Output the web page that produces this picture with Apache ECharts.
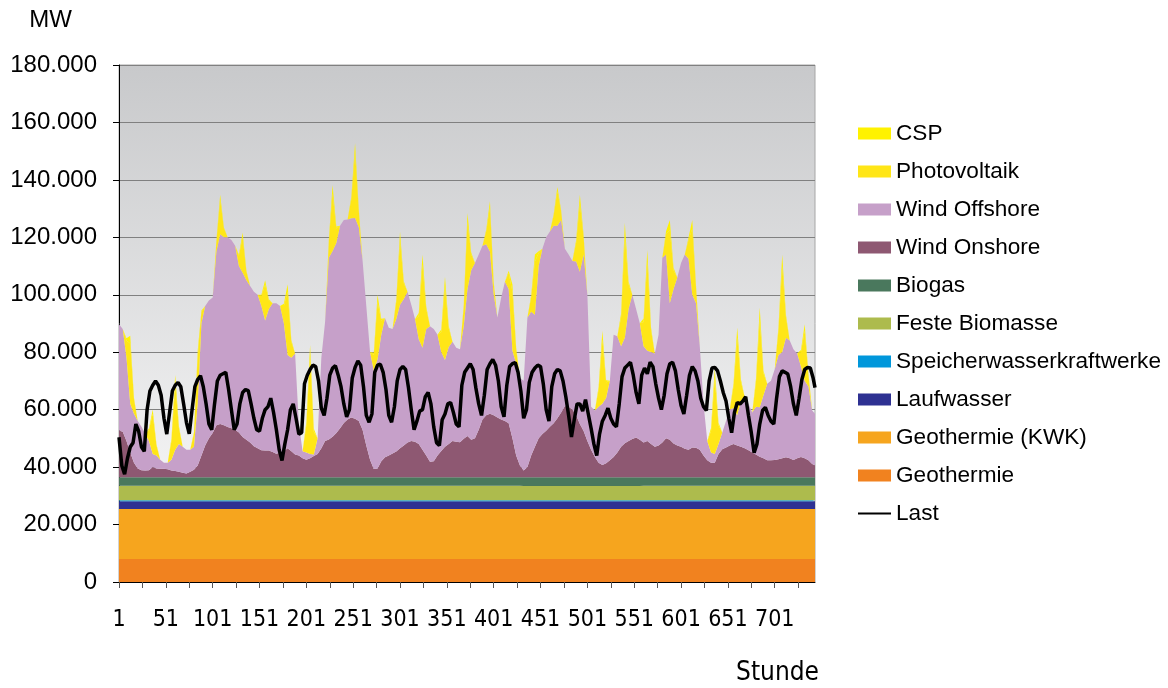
<!DOCTYPE html>
<html>
<head>
<meta charset="utf-8">
<title>Erzeugung und Last</title>
<script src="https://cdn.jsdelivr.net/npm/echarts@6/dist/echarts.min.js"></script>
<style>
  html, body { margin: 0; padding: 0; background: #fff; }
  #chart { width: 1168px; height: 688px; }
</style>
</head>
<body>
<div id="chart"></div>
<script>
// category axis: "Stunde" 1 ... 744
const hourLabels = [];
for (let h = 1; h <= 744; h++) hourLabels.push(String(h));

// positions on that axis (0 = Stunde 1): stacked sources every 4 hours, load every 3 hours
const stackHours = [];
for (let h = 0; h <= 740; h += 4) stackHours.push(h);
stackHours.push(743);

const lastHours = [];
for (let h = 0; h <= 741; h += 3) lastHours.push(h);
lastHours.push(743);

// nearly constant sources: [from hour, MW]
const geothermieLevels = [[0, 8000]];
const geothermieKwkLevels = [[0, 17400]];
const laufwasserLevels = [[0, 2700]];
const speicherwasserLevels = [[0, 400]];
const festeBiomasseLevels = [[0, 5000], [430, 4900], [560, 5000]];
const biogasLevels = [[0, 2950], [430, 3050], [560, 2950]];

// one row per day (00, 04, 08, 12, 16, 20 h), last entry = hour 743
const windOnshore = [
  16300, 15900, 12600, 8600, 5100, 3100,
  2500, 2400, 2500, 3600, 3100, 3000,
  3000, 2800, 2400, 2200, 1900, 1600,
  1300, 1900, 2600, 4100, 7600, 11100,
  13600, 15400, 18100, 18600, 18100, 17500,
  17100, 16600, 15600, 14000, 13100, 12100,
  10800, 10100, 9400, 9300, 9300, 8800,
  8200, 8600, 9100, 10100, 9100, 7900,
  7600, 6600, 6100, 6600, 7400, 8100,
  10100, 12600, 13200, 14100, 15400, 17100,
  18900, 20100, 20800, 20400, 19600, 16600,
  11100, 6100, 2900, 3100, 5600, 7000,
  7600, 8300, 9000, 10100, 11100, 12100,
  12600, 12400, 11600, 9600, 7600, 5400,
  5600, 7600, 9200, 10600, 11600, 12600,
  12400, 12200, 13400, 14400, 13100, 13600,
  16600, 20100, 21600, 22100, 21600, 20800,
  20100, 19600, 18800, 13600, 7600, 4100,
  2400, 3600, 7600, 10600, 13600, 15100,
  16200, 17600, 18800, 20600, 22600, 24800,
  24600, 23600, 21600, 18600, 16100, 12600,
  9600, 7100, 5100, 4300, 4900, 5900,
  7100, 8600, 10600, 11900, 12600, 13300,
  13900, 13100, 12100, 12600, 11600, 10600,
  11100, 12100, 13600, 13100, 11800, 11100,
  10600, 9900, 9600, 10400, 10300, 9600,
  7600, 5900, 5100, 5100, 8100, 9800,
  10400, 11100, 11600, 11100, 10600, 10100,
  9400, 8600, 7900, 7200, 6600, 5900,
  5900, 6000, 6300, 6600, 7000, 6600,
  6000, 6600, 7100, 6600, 5900, 4600,
  4200
];

const windOffshore = [
  37000, 35700, 29000, 17000, 17000, 16500,
  15100, 12800, 10100, 4500, 4500, 3100,
  2100, 2300, 3700, 7400, 9700, 9000,
  8300, 7700, 8000, 21500, 46000, 48500,
  48000, 47200, 60500, 66000, 65500, 66100,
  65500, 64000, 58000, 57200, 55500, 54500,
  53800, 53500, 50200, 45300, 49300, 51800,
  52400, 51000, 44500, 32500, 32500, 35200,
  11000, 2500, 2500, 1500, 500, 5500,
  31500, 41500, 63200, 64700, 66200, 70500,
  70700, 69700, 69400, 69900, 67500, 59000,
  48500, 37500, 34200, 38000, 44000, 48400,
  44500, 43300, 46100, 50000, 51000, 52500,
  47500, 42700, 36500, 35500, 44000, 47200,
  46000, 42000, 34400, 30200, 33800, 34600,
  32700, 32400, 39200, 51200, 59000, 61000,
  61000, 60500, 59500, 56500, 42000, 34800,
  42500, 48500, 46800, 30500, 32000, 30500,
  31200, 52000, 50000, 46000, 60000, 64500,
  67400, 68000, 68800, 67000, 67000, 54800,
  53000, 51700, 53500, 53000, 61500, 51000,
  15000, 16200, 19500, 21300, 22700, 27700,
  42500, 40500, 35000, 36700, 46000, 50300,
  44700, 40500, 33500, 31500, 32000, 32500,
  38500, 64300, 64000, 47500, 53800, 58500,
  64000, 67700, 66500, 53200, 50300, 36000,
  18000, 6700, 3500, 3000, 3500, 5800,
  9200, 12500, 12500, 10500, 16000, 17800,
  16200, 14000, 16700, 17200, 22000, 26700,
  27700, 31600, 36300, 37000, 41600, 41000,
  38600, 36500, 31500, 27000, 25700, 18700,
  17900
];

const photovoltaik = [
  0, 0, 6000, 21000, 5000, 0,
  0, 0, 4000, 14000, 3500, 0,
  0, 0, 6500, 23000, 5500, 0,
  0, 0, 4500, 16500, 4000, 0,
  0, 0, 3500, 12000, 3000, 0,
  0, 0, 3500, 12500, 3000, 0,
  0, 0, 3500, 12500, 3000, 0,
  0, 0, 6000, 22000, 5500, 0,
  0, 0, 9500, 34000, 8000, 0,
  0, 0, 5500, 20000, 5000, 0,
  0, 0, 6500, 23000, 5500, 0,
  0, 0, 5500, 20000, 5000, 0,
  0, 0, 6000, 22500, 5500, 0,
  0, 0, 8000, 29000, 7000, 0,
  0, 0, 7000, 26000, 6500, 0,
  0, 0, 6500, 23400, 5500, 0,
  0, 0, 4500, 15500, 4000, 0,
  0, 0, 5500, 20500, 5000, 0,
  0, 0, 5000, 18500, 4500, 0,
  0, 0, 3500, 12000, 3000, 0,
  0, 0, 6500, 23800, 6000, 0,
  0, 0, 6000, 22400, 5500, 0,
  0, 0, 10000, 35500, 8500, 0,
  0, 0, 8500, 31000, 7500, 0,
  0, 0, 7000, 25500, 6500, 0,
  0, 0, 6500, 23000, 5500, 0,
  0, 0, 7500, 26500, 6500, 0,
  0, 0, 7500, 27100, 6500, 0,
  0, 0, 8500, 30700, 7500, 0,
  0, 0, 8500, 30000, 7000, 0,
  0, 0, 5000, 17500, 4000, 0,
  0
];

const csp = [
  0, 0, 800, 2700, 600, 0,
  0, 0, 500, 1500, 400, 0,
  0, 0, 900, 3000, 700, 0,
  0, 0, 600, 2000, 500, 0,
  0, 0, 500, 1800, 400, 0,
  0, 0, 500, 1500, 400, 0,
  0, 0, 500, 1500, 400, 0,
  0, 0, 800, 2600, 700, 0,
  0, 0, 1200, 4000, 1000, 0,
  0, 0, 900, 3000, 700, 0,
  0, 0, 900, 3000, 700, 0,
  0, 0, 800, 2500, 600, 0,
  0, 0, 900, 3000, 700, 0,
  0, 0, 1100, 3500, 900, 0,
  0, 0, 900, 3000, 800, 0,
  0, 0, 900, 3000, 700, 0,
  0, 0, 600, 2000, 500, 0,
  0, 0, 800, 2500, 600, 0,
  0, 0, 800, 2500, 600, 0,
  0, 0, 500, 1500, 400, 0,
  0, 0, 900, 3000, 800, 0,
  0, 0, 900, 3000, 700, 0,
  0, 0, 1400, 4500, 1100, 0,
  0, 0, 1200, 4000, 1000, 0,
  0, 0, 1100, 3500, 900, 0,
  0, 0, 900, 3000, 700, 0,
  0, 0, 1100, 3500, 900, 0,
  0, 0, 1100, 3500, 900, 0,
  0, 0, 1200, 4000, 1000, 0,
  0, 0, 1200, 4000, 1000, 0,
  0, 0, 700, 2200, 500, 0,
  0
];

// load, one row per day (00, 03, ... 21 h), last entry = hour 743
const lastMW = [
  50400, 40500, 37500, 43000, 47000, 48500, 55000, 52500,
  47000, 45500, 60000, 66500, 68500, 70000, 68500, 65000,
  57000, 51500, 59000, 66600, 68500, 69500, 68000, 62000,
  55500, 51600, 60000, 68000, 70500, 71800, 68000, 62000,
  55000, 53000, 62000, 70000, 72000, 72500, 73000, 67000,
  60000, 53000, 55000, 62000, 66000, 67000, 66600, 62000,
  57000, 53000, 52500, 57000, 60000, 61000, 64000, 59000,
  53000, 46000, 42300, 48000, 53000, 60000, 62000, 57000,
  51500, 52000, 69000, 72000, 74000, 75500, 75000, 70000,
  60500, 58000, 64000, 72000, 74500, 75300, 72000, 68000,
  62000, 57500, 60000, 71000, 74700, 77000, 75500, 68000,
  58000, 55600, 58500, 73000, 75500, 75800, 73000, 67000,
  58000, 55600, 61000, 70000, 74000, 75000, 74000, 67700,
  60000, 53000, 56000, 59500, 60000, 64500, 66000, 62000,
  54000, 48500, 47500, 56500, 58500, 62000, 62500, 59000,
  55000, 54000, 68500, 73000, 74500, 76000, 74000, 67500,
  62000, 58000, 65000, 74000, 76000, 77500, 75500, 70000,
  61000, 57500, 68500, 75000, 76000, 76400, 73000, 66500,
  57000, 60000, 69500, 73000, 74500, 75500, 75000, 68900,
  60000, 56000, 68000, 72500, 74000, 73500, 70000, 64500,
  58000, 50500, 56500, 62000, 62000, 59500, 63500, 58500,
  53500, 48000, 44000, 51500, 56000, 58000, 60500, 57000,
  55000, 54000, 62000, 71500, 74500, 75500, 76500, 72000,
  66000, 62000, 72000, 74500, 72500, 76500, 75000, 69000,
  64000, 60000, 65000, 72500, 76000, 76500, 73500, 67000,
  61500, 58500, 65000, 72000, 75000, 73500, 70000, 64000,
  61000, 59700, 70000, 74500, 74700, 73500, 70000, 66000,
  63000, 57000, 52000, 59000, 62500, 62000, 63000, 64500,
  58000, 52000, 45000, 48000, 55000, 59700, 60800, 58000,
  56000, 55000, 64000, 71500, 73500, 73000, 72400, 68000,
  62000, 58000, 64000, 70500, 74000, 74700, 74500, 71000,
  67700
];

const yTicks = { min: 0, max: 180000, step: 20000 };
const xTickEvery = 25;
const xLabelEvery = 50;

function levelsToSeries(levels) {
  return stackHours.map(function (h) {
    let v = levels[0][1];
    levels.forEach(function (lv) { if (h >= lv[0]) v = lv[1]; });
    return v;
  });
}
function pairs(xs, ys) {
  return xs.map(function (x, i) { return [x, ys[i]]; });
}

const fontMain = "'Liberation Sans', Arial, sans-serif";
const fontNarrow = "'Liberation Sans Narrow', 'Arial Narrow', 'DejaVu Sans Condensed', sans-serif";

// bottom to top
const areas = [
  ['Geothermie', levelsToSeries(geothermieLevels), '#f1821f'],
  ['Geothermie (KWK)', levelsToSeries(geothermieKwkLevels), '#f6a51e'],
  ['Laufwasser', levelsToSeries(laufwasserLevels), '#2e3192'],
  ['Speicherwasserkraftwerke', levelsToSeries(speicherwasserLevels), '#0097db'],
  ['Feste Biomasse', levelsToSeries(festeBiomasseLevels), '#adbb4d'],
  ['Biogas', levelsToSeries(biogasLevels), '#4a785d'],
  ['Wind Onshore', windOnshore, '#8e5872'],
  ['Wind Offshore', windOffshore, '#c6a0c9'],
  ['Photovoltaik', photovoltaik, '#ffe617'],
  ['CSP', csp, '#fff200']
];

const series = areas.map(function (a) {
  return {
    name: a[0],
    type: 'line',
    stack: 'erzeugung',
    data: pairs(stackHours, a[1]),
    symbol: 'none',
    lineStyle: { width: 0 },
    itemStyle: { color: a[2] },
    areaStyle: { color: a[2], opacity: 1 },
    silent: true,
    z: 2
  };
});
series.push({
  name: 'Last',
  type: 'line',
  data: pairs(lastHours, lastMW),
  symbol: 'none',
  lineStyle: { color: '#000', width: 3.5 },
  itemStyle: { color: '#000' },
  silent: true,
  z: 5
});

const legendOrder = ['CSP', 'Photovoltaik', 'Wind Offshore', 'Wind Onshore', 'Biogas',
  'Feste Biomasse', 'Speicherwasserkraftwerke', 'Laufwasser', 'Geothermie (KWK)', 'Geothermie'];

const chart = echarts.init(document.getElementById('chart'));
chart.setOption({
  animation: false,
  backgroundColor: '#fff',
  grid: {
    left: 119, right: 353, top: 65, bottom: 106,
    show: true,
    borderColor: '#a6a6a6',
    borderWidth: 1,
    backgroundColor: new echarts.graphic.LinearGradient(0, 0, 0, 1, [
      { offset: 0, color: '#c8c9cb' },
      { offset: 1, color: '#fdfdfd' }
    ])
  },
  legend: {
    orient: 'vertical',
    left: 852,
    top: 117,
    itemWidth: 33,
    itemHeight: 12,
    itemGap: 15,
    selectedMode: false,
    textStyle: { fontFamily: fontMain, fontSize: 22.6, color: '#000' },
    data: legendOrder.map(function (n) { return { name: n, icon: 'rect' }; })
      .concat([{ name: 'Last', itemStyle: { opacity: 0 } }])
  },
  xAxis: {
    type: 'category',
    data: hourLabels,
    boundaryGap: false,
    name: 'Stunde',
    nameLocation: 'end',
    nameGap: 4,
    nameTextStyle: {
      fontFamily: fontNarrow, fontSize: 26, color: '#000',
      align: 'right', verticalAlign: 'top', padding: [78, 0, 0, 0]
    },
    axisLine: { lineStyle: { color: '#000', width: 1 } },
    axisTick: { length: 6, interval: xTickEvery - 1, lineStyle: { color: '#555' } },
    axisLabel: {
      fontFamily: fontNarrow, fontSize: 23, color: '#000', margin: 27,
      interval: xLabelEvery - 1
    },
    splitLine: { show: false }
  },
  yAxis: {
    type: 'value',
    min: yTicks.min,
    max: yTicks.max,
    interval: yTicks.step,
    name: 'MW',
    nameLocation: 'end',
    nameGap: 33,
    nameTextStyle: {
      fontFamily: fontMain, fontSize: 24, color: '#000',
      align: 'right', padding: [0, 47, 0, 0]
    },
    axisLine: { show: true, lineStyle: { color: '#000', width: 1 } },
    axisTick: { show: true, length: 6, lineStyle: { color: '#000' } },
    axisLabel: {
      fontFamily: fontMain, fontSize: 24, color: '#000', margin: 22,
      formatter: function (v) { return v === 0 ? '0' : (v / 1000) + '.000'; }
    },
    splitLine: { lineStyle: { color: '#808080', width: 1 } }
  },
  series: series
});
</script>
</body>
</html>
